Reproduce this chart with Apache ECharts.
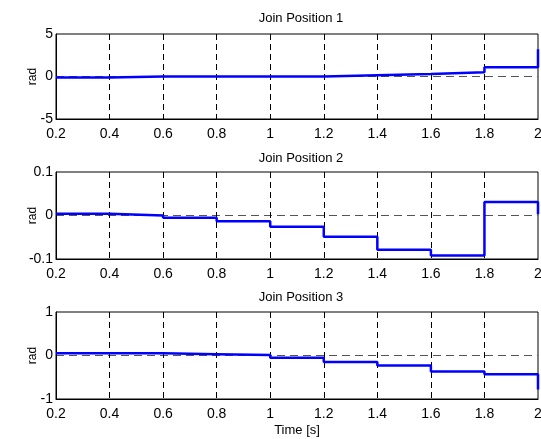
<!DOCTYPE html>
<html>
<head>
<meta charset="utf-8">
<script src="https://cdn.jsdelivr.net/npm/echarts@6/dist/echarts.min.js"></script>
<style>
  html, body { margin: 0; padding: 0; background: #fff; }
  #chart { width: 541px; height: 439px; }
</style>
</head>
<body>
<div id="chart"></div>
<script>
// Sample instants (s): each value is held until the next instant
const timeSteps = [0.2, 0.4, 0.6, 0.8, 1.0, 1.2, 1.4, 1.6, 1.8, 2.0];

// Joint positions (rad)
const joint1 = [-0.13, 0.0, 0.0, 0.0, 0.0, 0.16, 0.28, 0.5, 1.1, 3.2];
const joint2 = [0.004, 0.0, -0.005, -0.013, -0.026, -0.049, -0.079, -0.092, 0.031, 0.003];
const joint3 = [0.05, 0.05, 0.03, 0.01, -0.05, -0.15, -0.23, -0.37, -0.43, -0.78];

const titles = ['Join Position 1', 'Join Position 2', 'Join Position 3'];
const yRanges = [[-5, 5, 5], [-0.1, 0.1, 0.1], [-1, 1, 1]];
const seriesValues = [joint1, joint2, joint3];

const FONT = "'Liberation Sans', Arial, sans-serif";

const grids = [
  { top: 34, height: 85 },
  { top: 172, height: 87 },
  { top: 312, height: 87 }
];
const titleTops = [7, 147, 286];

const option = {
  backgroundColor: '#fff',
  animation: false,
  title: titles.map((t, i) => ({
    text: t,
    left: 296,
    top: titleTops[i],
    textAlign: 'center',
    textStyle: { fontFamily: FONT, fontSize: 13, fontWeight: 'normal', color: '#000' }
  })),
  grid: grids.map(g => ({
    left: 56, right: 3, top: g.top, height: g.height,
    outerBoundsMode: 'none',
    containLabel: false,
    show: true, borderColor: '#000', borderWidth: 1, backgroundColor: 'transparent'
  })),
  xAxis: grids.map((g, i) => ({
    type: 'value',
    gridIndex: i,
    min: 0.2, max: 2, interval: 0.2,
    name: i === 2 ? 'Time [s]' : '',
    nameLocation: 'middle',
    nameGap: 25,
    nameMoveOverlap: false,
    nameTextStyle: { fontFamily: FONT, fontSize: 13, color: '#000' },
    axisLine: { show: true, onZero: false, lineStyle: { color: '#000', width: 1 } },
    axisTick: { show: false },
    axisLabel: { fontFamily: FONT, fontSize: 14, color: '#000', margin: 8 },
    splitLine: {
      show: true, showMinLine: false, showMaxLine: false,
      lineStyle: { color: '#000', type: [6, 4], width: 1 }
    }
  })),
  yAxis: grids.map((g, i) => ({
    type: 'value',
    gridIndex: i,
    min: yRanges[i][0], max: yRanges[i][1], interval: yRanges[i][2],
    name: 'rad',
    nameLocation: 'middle',
    nameRotate: 90,
    nameGap: 17,
    nameMoveOverlap: false,
    nameTextStyle: { fontFamily: FONT, fontSize: 12, color: '#000' },
    axisLine: { show: true, lineStyle: { color: '#000', width: 1 } },
    axisTick: { show: false },
    axisLabel: { fontFamily: FONT, fontSize: 14, color: '#000', margin: 3 },
    splitLine: {
      show: true, showMinLine: false, showMaxLine: false,
      lineStyle: { color: '#555', type: [8, 5], width: 1 }
    }
  })),
  series: seriesValues.map((vals, i) => ({
    type: 'line',
    xAxisIndex: i,
    yAxisIndex: i,
    step: 'end',
    symbol: 'none',
    lineStyle: { color: '#0000ff', width: 2.5 },
    data: timeSteps.map((t, k) => [t, vals[k]])
  }))
};

const chart = echarts.init(document.getElementById('chart'), null, { renderer: 'canvas' });
chart.setOption(option);
</script>
</body>
</html>
